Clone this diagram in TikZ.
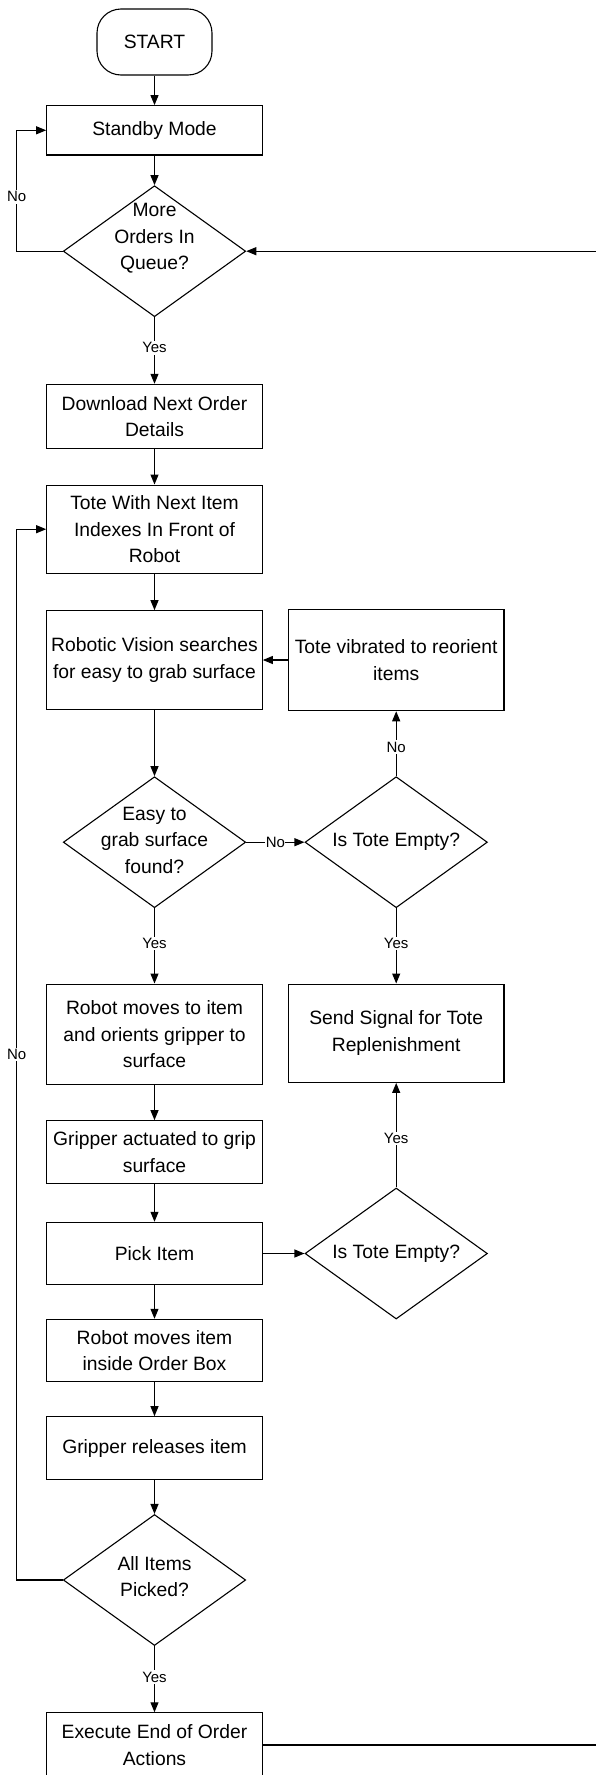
\documentclass[tikz,border=0pt]{standalone}
\usepackage{fontspec}
\setmainfont{Liberation Sans}
\usetikzlibrary{shapes.geometric,arrows.meta}
\begin{document}
\begin{tikzpicture}[x=1pt,y=-1pt,
  line width=1.1pt,
  every node/.style={font=\fontsize{19.3}{26.5}\selectfont},
  box/.style={draw, rectangle, minimum width=215.6pt, inner sep=0pt, align=center},
  dia/.style={draw, diamond, minimum width=182.4pt, minimum height=131pt, inner sep=0pt},
  term/.style={draw, rectangle, rounded corners=24pt, minimum width=115pt, minimum height=66pt, inner sep=0pt},
  txt/.style={align=center, inner sep=0pt},
  lbl/.style={fill=white, inner sep=1.5pt, font=\fontsize{15}{17}\selectfont},
  arr/.style={-{Triangle[length=10pt,width=8pt]}},
  ]
\useasboundingbox (0,0) rectangle (596,1775);

% main column
\node[term] (start) at (154.5,42) {START};
\node[box, minimum height=49.3pt] (standby) at (154.5,130.3) {Standby Mode};
\node[dia] (more) at (154.5,251.2) {};
\node[txt] (moret) at (154.5,238.5) {More\\Orders In\\Queue?};
\node[box, minimum height=64.4pt] (download) at (154.5,416.5) {Download Next Order\\Details};
\node[box, minimum height=88.3pt] (tote) at (154.5,529.2) {Tote With Next Item\\Indexes In Front of\\Robot};
\node[box, minimum height=98.6pt] (vision) at (154.5,660) {Robotic Vision searches\\for easy to grab surface};
\node[dia] (easy) at (154.5,842.2) {};
\node[txt] (easyt) at (154.5,840.3) {Easy to\\grab surface\\found?};
\node[box, minimum height=100.3pt] (moves) at (154.5,1034.2) {Robot moves to item\\and orients gripper to\\surface};
\node[box, minimum height=62.6pt] (actuated) at (154.5,1152) {Gripper actuated to grip\\surface};
\node[box, minimum height=62.4pt] (pick) at (154.5,1253.5) {Pick Item};
\node[box, minimum height=62.4pt] (inside) at (154.5,1350.5) {Robot moves item\\inside Order Box};
\node[box, minimum height=62.6pt] (release) at (154.5,1448) {Gripper releases item};
\node[dia] (all) at (154.5,1580) {};
\node[txt] (allt) at (154.5,1576.8) {All Items\\Picked?};
\node[box, minimum height=64.4pt] (execute) at (154.5,1745) {Execute End of Order\\Actions};

% right column
\node[box, minimum height=101.4pt] (vibrate) at (396.2,660) {Tote vibrated to reorient\\items};
\node[dia] (empty1) at (396.2,842.2) {};
\node[txt] (empty1t) at (396.2,842.2) {Is Tote Empty?};
\node[box, minimum height=98.3pt] (signal) at (396.2,1033.2) {Send Signal for Tote\\Replenishment};
\node[dia] (empty2) at (396.2,1253.5) {};
\node[txt] (empty2t) at (396.2,1253.5) {Is Tote Empty?};

% loop coordinates
\coordinate (nl1) at (16.7,0);
\coordinate (nl2) at (16.7,0);
\coordinate (back) at (610,0);

% main flow
\draw[arr] (start) -- (standby);
\draw[arr] (standby) -- (more);
\draw[arr] (more) -- node[lbl, pos=0.46] {Yes} (download);
\draw[arr] (download) -- (tote);
\draw[arr] (tote) -- (vision);
\draw[arr] (vision) -- (easy);
\draw[arr] (easy) -- node[lbl, pos=0.47] {Yes} (moves);
\draw[arr] (moves) -- (actuated);
\draw[arr] (actuated) -- (pick);
\draw[arr] (pick) -- (inside);
\draw[arr] (inside) -- (release);
\draw[arr] (release) -- (all);
\draw[arr] (all) -- node[lbl, pos=0.47] {Yes} (execute);

% branches
\draw[arr] (easy.east) -- node[lbl, inner sep=0.5pt, pos=0.5] {No} (empty1.west);
\draw[arr] (empty1.north) -- node[lbl, pos=0.45] {No} (vibrate.south);
\draw[arr] (vibrate.west) -- (vision.east);
\draw[arr] (empty1.south) -- node[lbl, pos=0.47] {Yes} (signal.north);
\draw[arr] (empty2.north) -- node[lbl, pos=0.47] {Yes} (signal.south);
\draw[arr] (pick.east) -- (empty2.west);

% loops
\draw[arr] (more.west) -- (nl1 |- more.west) -- node[lbl, pos=0.45] {No} (nl1 |- standby.west) -- (standby.west);
\draw[arr] (all.west) -- (nl2 |- all.west) -- node[lbl, pos=0.5] {No} (nl2 |- tote.west) -- (tote.west);
\draw[arr] (execute.east) -- (back |- execute.east) -- (back |- more.east) -- (more.east);
\end{tikzpicture}
\end{document}
